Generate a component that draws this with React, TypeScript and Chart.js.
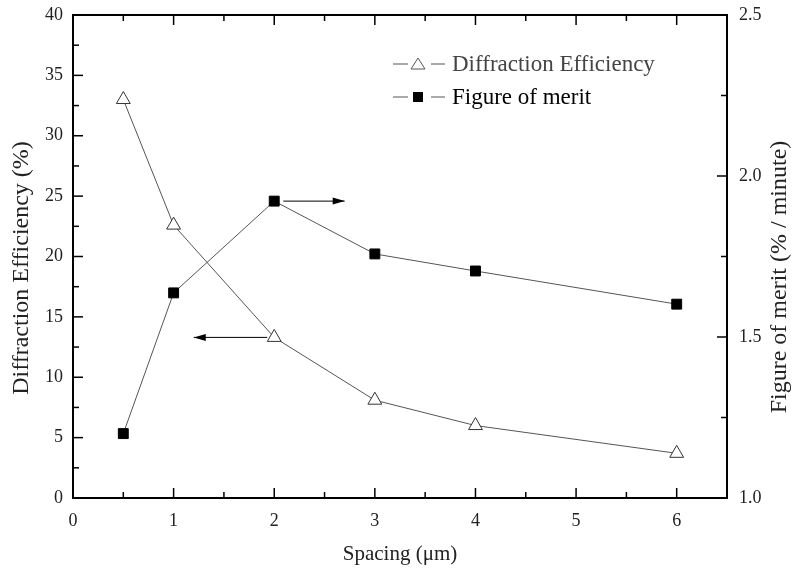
import React, { useEffect, useRef } from "react";
import { Chart, registerables } from "chart.js";

Chart.register(...registerables);

const spacing = [0.5, 1, 2, 3, 4, 6];
const diffractionEfficiency = [33.0, 22.6, 13.3, 8.1, 6.0, 3.7];
const figureOfMerit = [1.2, 1.637, 1.922, 1.758, 1.705, 1.602];
const xTicks = [0, 1, 2, 3, 4, 5, 6];
const leftTicks = [0, 5, 10, 15, 20, 25, 30, 35, 40];
const rightTicks = [1.0, 1.5, 2.0, 2.5];
const legendLabels = ["Diffraction Efficiency", "Figure of merit"];
const leftTitle = "Diffraction Efficiency (%)";
const rightTitle = "Figure of merit (% / minute)";
const arrowRight = { from: [2.09, 1.922], to: [2.7, 1.922] };
const arrowLeft = { from: [1.93, 13.3], to: [1.2, 13.3] };

const FONT = "'Liberation Serif', 'Times New Roman', serif";
const LINE = "#555";
const TEXT = "#222";

const framePlugin = {
  id: "frame",
  afterDraw(chart: any) {
    const { ctx, chartArea: a, scales } = chart;
    const x = scales.x, yl = scales.y, yr = scales.y2;
    ctx.save();
    ctx.strokeStyle = "#000";
    ctx.lineWidth = 2;
    ctx.strokeRect(a.left, a.top, a.right - a.left, a.bottom - a.top);
    ctx.lineWidth = 1.5;
    const seg = (x1: number, y1: number, x2: number, y2: number) => {
      ctx.beginPath();
      ctx.moveTo(x1, y1);
      ctx.lineTo(x2, y2);
      ctx.stroke();
    };
    for (let v = 0.5; v <= 6.5; v += 0.5) {
      const px = x.getPixelForValue(v);
      const len = Number.isInteger(v) ? 10 : 6;
      seg(px, a.bottom, px, a.bottom - len);
      seg(px, a.top, px, a.top + len);
    }
    for (let v = 2.5; v < 40; v += 2.5) {
      const py = yl.getPixelForValue(v);
      const len = v % 5 === 0 ? 10 : 6;
      seg(a.left, py, a.left + len, py);
    }
    for (let v = 1.25; v < 2.5; v += 0.25) {
      const py = yr.getPixelForValue(v);
      const len = Math.abs((v * 2) % 1) < 1e-6 ? 10 : 6;
      seg(a.right, py, a.right - len, py);
    }
    const arrow = (x1: number, y1: number, x2: number, y2: number) => {
      ctx.strokeStyle = "#000";
      ctx.fillStyle = "#000";
      ctx.lineWidth = 1;
      seg(x1, y1, x2, y2);
      const dir = Math.sign(x2 - x1);
      ctx.beginPath();
      ctx.moveTo(x2, y2);
      ctx.lineTo(x2 - dir * 12, y2 - 3.5);
      ctx.lineTo(x2 - dir * 12, y2 + 3.5);
      ctx.closePath();
      ctx.fill();
    };
    arrow(
      x.getPixelForValue(arrowRight.from[0]), yr.getPixelForValue(arrowRight.from[1]),
      x.getPixelForValue(arrowRight.to[0]), yr.getPixelForValue(arrowRight.to[1])
    );
    arrow(
      x.getPixelForValue(arrowLeft.from[0]), yl.getPixelForValue(arrowLeft.from[1]),
      x.getPixelForValue(arrowLeft.to[0]), yl.getPixelForValue(arrowLeft.to[1])
    );
    // vertical axis titles (both read bottom-to-top)
    ctx.fillStyle = TEXT;
    ctx.font = `24px ${FONT}`;
    ctx.textAlign = "center";
    ctx.textBaseline = "middle";
    const vtitle = (text: string, cx: number, cy: number) => {
      ctx.save();
      ctx.translate(cx, cy);
      ctx.rotate(-Math.PI / 2);
      ctx.fillText(text, 0, 0);
      ctx.restore();
    };
    vtitle(leftTitle, 22, 268);
    vtitle(rightTitle, 780, 277);
    // legend
    const lx = 393, ly = [64, 97];
    ctx.font = `23px ${FONT}`;
    ctx.textBaseline = "middle";
    ctx.textAlign = "left";
    legendLabels.forEach((lab, i) => {
      const y = ly[i];
      ctx.strokeStyle = LINE;
      ctx.lineWidth = 1;
      seg(lx, y, lx + 15, y);
      seg(lx + 38, y, lx + 52, y);
      const cx = lx + 25;
      if (i === 0) {
        ctx.fillStyle = "#fff";
        ctx.beginPath();
        ctx.moveTo(cx, y - 6);
        ctx.lineTo(cx + 7, y + 5);
        ctx.lineTo(cx - 7, y + 5);
        ctx.closePath();
        ctx.fill();
        ctx.stroke();
        ctx.fillStyle = "#444";
      } else {
        ctx.fillStyle = "#000";
        ctx.fillRect(cx - 5, y - 5, 10, 10);
      }
      ctx.fillText(lab, lx + 59, y + 1);
    });
    ctx.restore();
  },
};

export default function App() {
  const ref = useRef<HTMLCanvasElement>(null);
  useEffect(() => {
    const chart = new Chart(ref.current!, {
      type: "line",
      data: {
        datasets: [
          {
            label: legendLabels[0],
            data: spacing.map((s, i) => ({ x: s, y: diffractionEfficiency[i] })),
            yAxisID: "y",
            borderColor: LINE,
            borderWidth: 1,
            pointStyle: "triangle",
            pointRadius: 8,
            pointBackgroundColor: "#fff",
            pointBorderColor: "#333",
            pointBorderWidth: 1,
            tension: 0,
          },
          {
            label: legendLabels[1],
            data: spacing.map((s, i) => ({ x: s, y: figureOfMerit[i] })),
            yAxisID: "y2",
            borderColor: LINE,
            borderWidth: 1,
            pointStyle: "rect",
            pointRadius: 7,
            pointBackgroundColor: "#000",
            pointBorderColor: "#000",
            pointBorderWidth: 1,
            tension: 0,
          },
        ],
      },
      options: {
        animation: false,
        responsive: false,
        maintainAspectRatio: false,
        layout: { padding: { top: 15, left: 0, right: 0, bottom: 0 } },
        plugins: { legend: { display: false }, tooltip: { enabled: false } },
        scales: {
          x: {
            type: "linear",
            min: 0,
            max: 6.5,
            grid: { display: false },
            border: { display: false },
            afterBuildTicks: (s: any) => { s.ticks = xTicks.map((v) => ({ value: v })); },
            afterFit: (s: any) => { s.height = 73; },
            ticks: { color: TEXT, font: { family: FONT, size: 18 }, padding: 4, maxRotation: 0 },
            title: { display: true, text: "Spacing (μm)", color: TEXT, font: { family: FONT, size: 21 }, padding: { top: 12 } },
          },
          y: {
            type: "linear",
            position: "left",
            min: 0,
            max: 40,
            grid: { display: false },
            border: { display: false },
            afterBuildTicks: (s: any) => { s.ticks = leftTicks.map((v) => ({ value: v })); },
            afterFit: (s: any) => { s.width = 73; },
            ticks: { color: TEXT, font: { family: FONT, size: 18 }, padding: 2 },
          },
          y2: {
            type: "linear",
            position: "right",
            min: 1.0,
            max: 2.5,
            grid: { display: false },
            border: { display: false },
            afterBuildTicks: (s: any) => { s.ticks = rightTicks.map((v) => ({ value: v })); },
            afterFit: (s: any) => { s.width = 67; },
            ticks: { color: TEXT, font: { family: FONT, size: 18 }, padding: 4, callback: (v: any) => Number(v).toFixed(1) },
          },
        },
      },
      plugins: [framePlugin],
    } as any);
    return () => chart.destroy();
  }, []);
  return (
    <div style={{ position: "fixed", left: 0, top: 0, width: 794, height: 571, background: "#fff" }}>
      <canvas ref={ref} width={794} height={571} style={{ width: 794, height: 571 }} />
    </div>
  );
}
